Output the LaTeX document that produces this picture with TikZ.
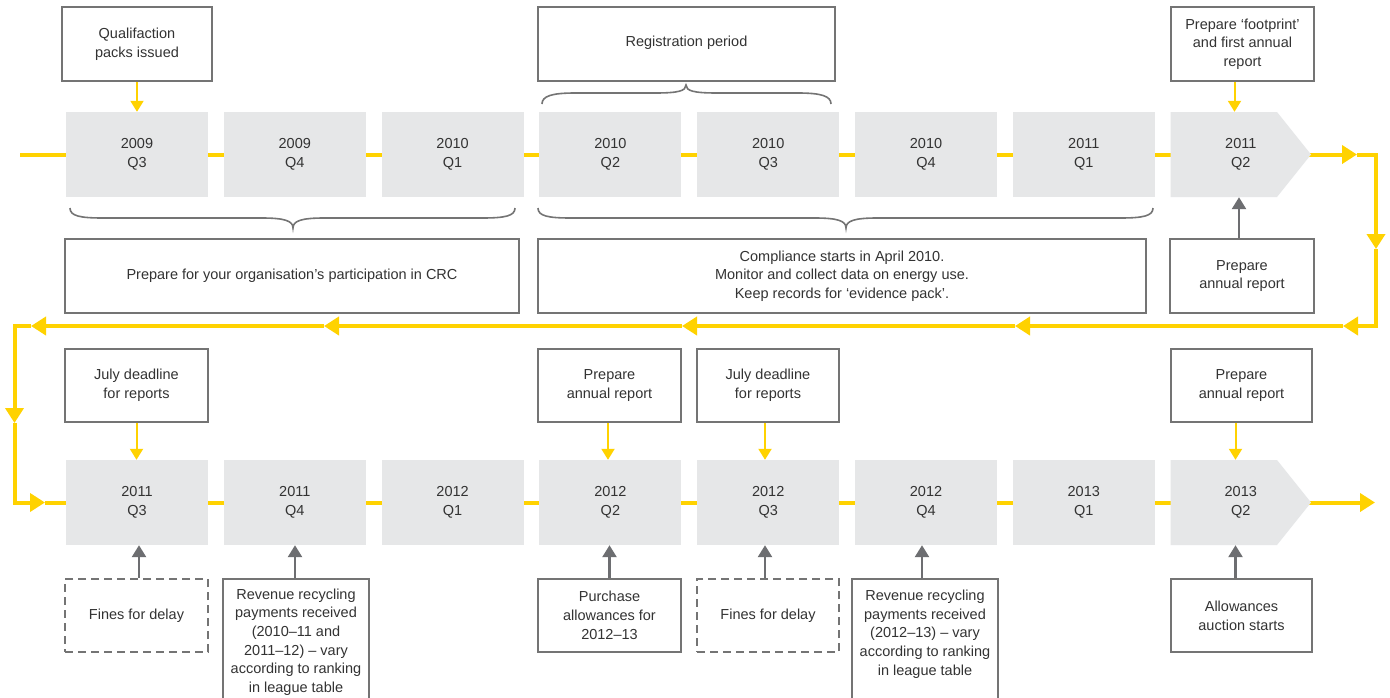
\documentclass[tikz,border=0pt]{standalone}
\usepackage{fontspec}
\setmainfont{Liberation Sans}
\usetikzlibrary{backgrounds,arrows.meta}
\definecolor{eyyellow}{HTML}{FFD200}
\definecolor{qgray}{HTML}{E6E7E8}
\definecolor{bordergray}{HTML}{747474}
\definecolor{txt}{HTML}{333333}
\definecolor{arrgray}{HTML}{6D6E71}
\tikzset{
  txtfont/.style={font=\fontsize{14.5}{18.7}\selectfont, text=txt},
  quarter/.style={txtfont, fill=qgray, minimum width=142pt, minimum height=85pt, inner sep=0pt, align=center},
  quartertext/.style={txtfont, minimum width=140.4pt, minimum height=85pt, inner sep=0pt, align=center},
  note/.style={txtfont, draw=bordergray, line width=1.6pt, fill=white, inner sep=0pt, align=center},
  dashednote/.style={note, dash pattern=on 8pt off 5pt},
  yl/.style={draw=eyyellow, line width=4pt},
  bigtip/.style={-{Triangle[length=15pt,width=18pt]}},
  ysmall/.style={draw=eyyellow, line width=2pt, -{Triangle[length=11pt,width=13pt]}},
  gsmall/.style={draw=arrgray, line width=2.5pt, -{Triangle[length=12pt,width=14pt]}},
  bracestyle/.style={draw=bordergray, line width=1.6pt},
}
\begin{document}
\begin{tikzpicture}[x=1pt,y=-1pt]
\useasboundingbox (0,0) rectangle (1390,697);

% ---------- top row of quarters ----------
\node[quarter] (q1) at (137,154.5) {2009\\Q3};
\node[quarter] (q2) at (294.8,154.5) {2009\\Q4};
\node[quarter] (q3) at (452.6,154.5) {2010\\Q1};
\node[quarter] (q4) at (610.4,154.5) {2010\\Q2};
\node[quarter] (q5) at (768.2,154.5) {2010\\Q3};
\node[quarter] (q6) at (926,154.5) {2010\\Q4};
\node[quarter] (q7) at (1083.8,154.5) {2011\\Q1};
\fill[qgray] (1170.6,112) -- (1277,112) -- (1311,154.5) -- (1277,197) -- (1170.6,197) -- cycle;
\node[quartertext] (q8) at (1240.8,154.5) {2011\\Q2};

% ---------- bottom row of quarters ----------
\node[quarter] (q9)  at (137,502.5) {2011\\Q3};
\node[quarter] (q10) at (294.8,502.5) {2011\\Q4};
\node[quarter] (q11) at (452.6,502.5) {2012\\Q1};
\node[quarter] (q12) at (610.4,502.5) {2012\\Q2};
\node[quarter] (q13) at (768.2,502.5) {2012\\Q3};
\node[quarter] (q14) at (926,502.5) {2012\\Q4};
\node[quarter] (q15) at (1083.8,502.5) {2013\\Q1};
\fill[qgray] (1170.6,460) -- (1277,460) -- (1311,502.5) -- (1277,545) -- (1170.6,545) -- cycle;
\node[quartertext] (q16) at (1240.8,502.5) {2013\\Q2};

% ---------- notes, top part ----------
\node[note, minimum width=150pt, minimum height=74pt] (qp) at (137,44) {Qualifaction\\packs issued};
\node[note, minimum width=297pt, minimum height=74pt] (reg) at (686.5,44) {\raisebox{6pt}{Registration period}};
\node[note, minimum width=143pt, minimum height=74pt] (fp) at (1242.5,44) {Prepare ‘footprint’\\and first annual\\report};
\node[note, minimum width=454pt, minimum height=74pt] (prep) at (292,276) {Prepare for your organisation’s participation in CRC};
\node[note, minimum width=608pt, minimum height=74pt] (comp) at (842,276) {Compliance starts in April 2010.\\Monitor and collect data on energy use.\\Keep records for ‘evidence pack’.};
\node[note, minimum width=144pt, minimum height=74pt] (par1) at (1242,276) {Prepare\\annual report};

% ---------- notes, bottom part ----------
\node[note, minimum width=143pt, minimum height=73pt] (jul1) at (136.5,385.5) {July deadline\\for reports};
\node[note, minimum width=143pt, minimum height=73pt] (par2) at (609.5,385.5) {Prepare\\annual report};
\node[note, minimum width=142pt, minimum height=73pt] (jul2) at (768,385.5) {July deadline\\for reports};
\node[note, minimum width=141pt, minimum height=73pt] (par3) at (1241.5,385.5) {Prepare\\annual report};

\node[dashednote, minimum width=143pt, minimum height=73pt] (fin1) at (136.5,615.5) {Fines for delay};
\node[note, minimum width=146pt, minimum height=126pt] (rev1) at (296,642) {Revenue recycling\\payments received\\(2010–11 and\\2011–12) – vary\\according to ranking\\in league table};
\node[note, minimum width=143pt, minimum height=73pt] (pur) at (609.5,615.5) {Purchase\\allowances for\\2012–13};
\node[dashednote, minimum width=142pt, minimum height=73pt] (fin2) at (768,615.5) {Fines for delay};
\node[note, minimum width=146pt, minimum height=126pt] (rev2) at (925,642) {Revenue recycling\\payments received\\(2012–13) – vary\\according to ranking\\in league table\\\mbox{}};
\node[note, minimum width=141pt, minimum height=73pt] (auc) at (1241.5,615.5) {Allowances\\auction starts};

% ---------- braces ----------
\draw[bracestyle] (70,208) .. controls (70,216) and (80,218) .. (103,218) -- (262,218)
  .. controls (285,218) and (293,221) .. (293,228) .. controls (293,221) and (301,218) .. (324,218)
  -- (482,218) .. controls (505,218) and (515,216) .. (515,208);
\draw[bracestyle] (538,208) .. controls (538,216) and (548,218) .. (571,218) -- (815,218)
  .. controls (838,218) and (846,221) .. (846,228) .. controls (846,221) and (854,218) .. (877,218)
  -- (1120,218) .. controls (1143,218) and (1153,216) .. (1153,208);
\draw[bracestyle] (542,104) .. controls (542,96) and (552,93) .. (575,93) -- (655,93)
  .. controls (678,93) and (686,91) .. (686,85) .. controls (686,91) and (694,93) .. (717,93)
  -- (798,93) .. controls (821,93) and (831,96) .. (831,104);

% ---------- small arrows ----------
\draw[ysmall] (qp.south) -- (qp.south |- q1.north);
\draw[ysmall] ([xshift=-8pt]fp.south) -- ([xshift=-8pt]fp.south |- q8.north);
\draw[gsmall] ([xshift=-3pt]par1.north) -- ([xshift=-3pt]par1.north |- q8.south);
\draw[ysmall] (jul1.south) -- (jul1.south |- q9.north);
\draw[ysmall] ([xshift=-1.5pt]par2.south) -- ([xshift=-1.5pt]par2.south |- q12.north);
\draw[ysmall] ([xshift=-3pt]jul2.south) -- ([xshift=-3pt]jul2.south |- q13.north);
\draw[ysmall] ([xshift=-6pt]par3.south) -- ([xshift=-6pt]par3.south |- q16.north);
\draw[gsmall] ([xshift=2.5pt]fin1.north) -- ([xshift=2.5pt]fin1.north |- q9.south);
\draw[gsmall] ([xshift=-1pt]rev1.north) -- ([xshift=-1pt]rev1.north |- q10.south);
\draw[gsmall] (pur.north) -- (pur.north |- q12.south);
\draw[gsmall] ([xshift=-3pt]fin2.north) -- ([xshift=-3pt]fin2.north |- q13.south);
\draw[gsmall] ([xshift=-3pt]rev2.north) -- ([xshift=-3pt]rev2.north |- q14.south);
\draw[gsmall] ([xshift=-6pt]auc.north) -- ([xshift=-6pt]auc.north |- q16.south);

% ---------- timeline loop ----------
\coordinate (s0) at (20,154.5);
\coordinate (a1) at (1357,154.5);
\coordinate (a2) at (1376,249);
\coordinate (a3) at (1343,326);
\coordinate (a4) at (1015,326);
\coordinate (a5) at (682,326);
\coordinate (a6) at (324,326);
\coordinate (a7) at (31,326);
\coordinate (a8) at (14.5,423);
\coordinate (a9) at (45,502.5);
\coordinate (e1) at (1375,502.5);

\draw[yl, bigtip] (q8.east) -- (a1);
\draw[yl, bigtip] (a1) -| (a2);
\draw[yl, bigtip] (a2) |- (a3);
\draw[yl, bigtip] (a3) -- (a4);
\draw[yl, bigtip] (a4) -- (a5);
\draw[yl, bigtip] (a5) -- (a6);
\draw[yl, bigtip] (a6) -- (a7);
\draw[yl, bigtip] (a7) -| (a8);
\draw[yl, bigtip] (a8) |- (a9);
\draw[yl, bigtip] (q16.east) -- (e1);

\begin{scope}[on background layer]
  \fill[white] (0,0) rectangle (1390,697);
  \draw[yl] (s0) -- (q8.east);
  \draw[yl] (a9) -- (q16.east);
\end{scope}
\end{tikzpicture}
\end{document}
